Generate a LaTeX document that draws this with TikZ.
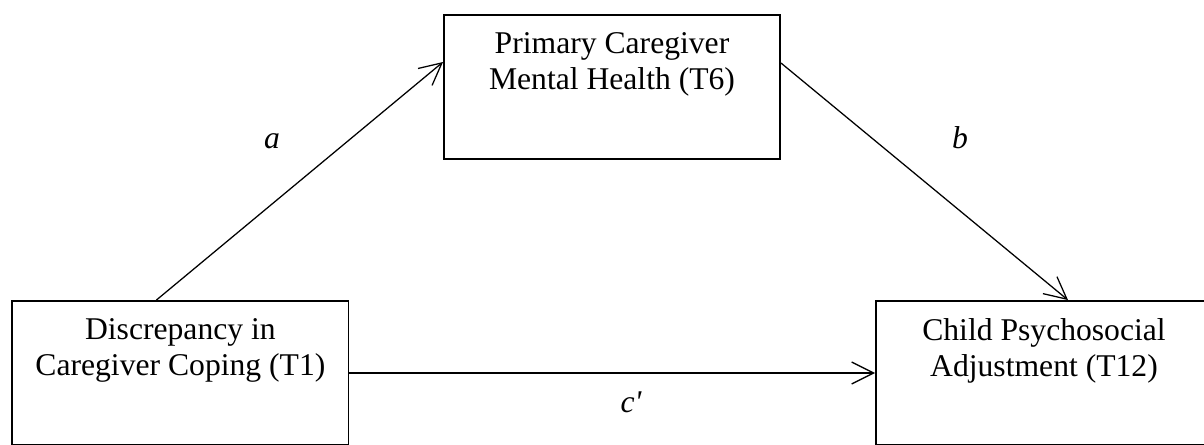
\documentclass[tikz,border=0pt]{standalone}
\usepackage{fontspec}
\setmainfont{Liberation Serif}
\usetikzlibrary{arrows.meta}
\tikzset{
  varbox/.style={draw=black, line width=1.3pt, minimum width=8.4cm, minimum height=3.6cm, inner sep=0pt},
  vartext/.style={anchor=north, align=center, inner sep=0pt, font=\fontsize{22.5}{25.6}\selectfont},
  pathlbl/.style={anchor=base, inner sep=0pt, font=\fontsize{22.5}{25.6}\selectfont\itshape},
  medpath/.style={-{Straight Barb[length=5.5mm,width=5.5mm]}, line width=.9pt, black}
}
\begin{document}
\begin{tikzpicture}[x=0.025cm,y=-0.025cm]
        \useasboundingbox (0,0) rectangle (1204,445);
        %box drawing
        \node[varbox] (ment) at (612,87) {};
        \node[varbox] (disc) at (180.4,373) {};
        \node[varbox] (adj) at (1044,373) {};

        % box texts
        \node[vartext] (mentT) at ([yshift=-0.45cm]ment.north) {Primary Caregiver\\Mental Health (T6)};
        \node[vartext] (discT) at ([yshift=-0.45cm]disc.north) {Discrepancy in\\Caregiver Coping (T1)};
        \node[vartext] (adjT) at ([yshift=-0.45cm]adj.north) {Child Psychosocial\\Adjustment (T12)};

        % paths
        \draw[medpath] ([xshift=-0.6cm]disc.north) -- ([yshift=0.625cm]ment.west);
        \draw[medpath] ([yshift=0.6cm]ment.east) -- ([xshift=0.6cm]adj.north);
        \draw[medpath] (disc.east) -- (adj.west);

        % path labels
        \node[pathlbl] (lblA) at (272,149) {a};
        \node[pathlbl] (lblB) at (960,149) {b};
        \node[pathlbl] (lblC) at (631,412) {c\textquotesingle};
\end{tikzpicture}
\end{document}
